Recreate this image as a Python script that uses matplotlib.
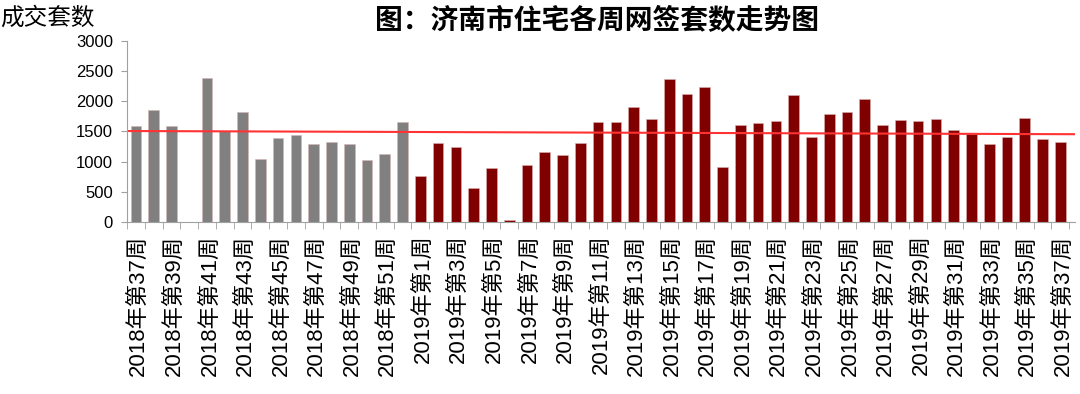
import numpy as np
import matplotlib
matplotlib.use("Agg")
import matplotlib.pyplot as plt

plt.rcParams['font.family'] = ['Liberation Sans', 'Noto Sans CJK SC', 'DejaVu Sans']

# 2018年 第37-52周 (第40周无数据)
weeks_2018 = list(range(37, 53))
values_2018 = [1594, 1856, 1589, np.nan, 2389, 1511, 1828, 1044, 1394, 1439,
               1294, 1322, 1289, 1028, 1122, 1650]
# 2019年 第1-37周
weeks_2019 = list(range(1, 38))
values_2019 = [767, 1317, 1244, 572, 889, 28, 950, 1156, 1111, 1317,
               1656, 1656, 1906, 1706, 2378, 2128, 2233, 917, 1611, 1639,
               1667, 2100, 1406, 1789, 1817, 2039, 1611, 1683, 1667, 1700,
               1522, 1461, 1289, 1417, 1728, 1372, 1328]
# 趋势线 (左端, 右端)
trend = [1508, 1455]

labels = [f"2018年第{w}周" for w in weeks_2018] + [f"2019年第{w}周" for w in weeks_2019]
values = np.array(values_2018 + values_2019, dtype=float)
colors = ['#808080'] * len(weeks_2018) + ['#800000'] * len(weeks_2019)
x = np.arange(len(labels))
x_end = len(labels) - 0.5 + 0.3

fig = plt.figure(figsize=(10.8, 3.94), dpi=100)
ax = fig.add_axes([0.1176, 0.4365, 0.8774, 0.4595])

ax.bar(x, np.nan_to_num(values), width=0.6, color=colors, edgecolor='#d9b3b3', linewidth=0.4)

# 趋势线
ax.plot([-0.5, x_end], trend, color='#ff3333', linewidth=1.5)

ax.set_xlim(-0.5, x_end)
ax.set_ylim(0, 3000)
ax.set_yticks(range(0, 3001, 500))
ax.tick_params(axis='y', labelsize=12, length=4, color='#a0a0a0', pad=6)

ax.set_xticks(np.arange(-0.5, len(labels), 1), minor=True)
ax.set_xticks(x[::2] + 0.15)
ax.set_xticklabels(labels[::2], rotation=90, fontsize=16, va='top')
ax.tick_params(axis='x', which='major', length=0, pad=9)
ax.tick_params(axis='x', which='minor', length=5, color='#a0a0a0')

for s in ['top', 'right']:
    ax.spines[s].set_visible(False)
for s in ['left', 'bottom']:
    ax.spines[s].set_color('#a0a0a0')

fig.text(0.553, 0.948, "图：济南市住宅各周网签套数走势图", ha='center', va='center',
         fontsize=20, fontweight='bold', family=['Noto Sans CJK SC'])
fig.text(0.0, 0.955, "成交套数", ha='left', va='center', fontsize=17,
         family=['Noto Sans CJK SC'])

fig.savefig("out.png", dpi=100)
